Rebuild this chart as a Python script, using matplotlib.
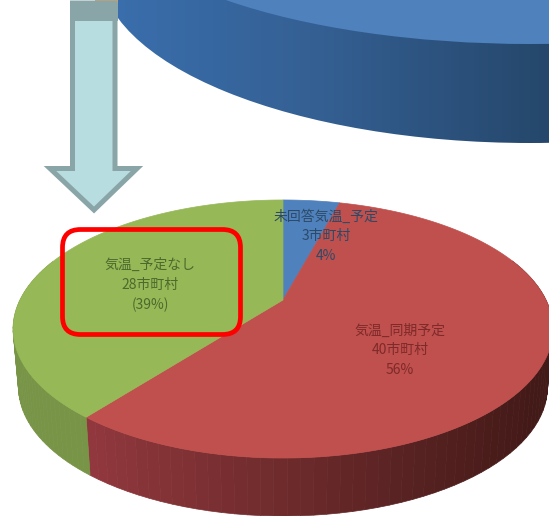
import matplotlib.pyplot as plt
import matplotlib.patches as patches
import matplotlib.colors as mcolors
import numpy as np

plt.rcParams['font.family'] = ['Noto Sans CJK JP', 'DejaVu Sans']

# municipalities per answer, clockwise from the top of the pie
counts = [3, 40, 28]
pct_labels = ['4%', '56%', '(39%)']
slice_names = ['未回答気温_予定', '気温_同期予定', '気温_予定なし']
count_labels = ['3市町村', '40市町村', '28市町村']
top_colors = ['#4f81bd', '#c0504d', '#96b857']
side_left = [(0.20, 0.35, 0.55), (0.57, 0.22, 0.24), (0.47, 0.58, 0.28)]
side_right = [(0.15, 0.27, 0.45), (0.26, 0.10, 0.09), (0.53, 0.64, 0.31)]

W, H = 549, 516
fig = plt.figure(figsize=(W / 100, H / 100), dpi=100)
ax = fig.add_axes([0, 0, 1, 1])

# pie is drawn in perspective, so the centre sits above the middle of the ellipse
CX, CY = 283, 300
RX, RY, K = 263, 122.5, 0.2248
THICK = 58
SHRINK = 0.98  # lower rim is a little narrower than the top face


def project(theta):
    u, v = np.sin(theta), np.cos(theta)
    d = 1 + K * v
    return CX + RX * u / d, CY - RY * v / d


def lower(x, y):
    return CX + (x - CX) * SHRINK, y + THICK


# upper big pie, cut by the picture edge
big_side = patches.Ellipse((530, -32), 860, 350, fc='none', ec='none', zorder=1)
ax.add_patch(big_side)
shade = mcolors.LinearSegmentedColormap.from_list('side', ['#3a6fae', '#345f92', '#25476b'])
img = ax.imshow(np.linspace(0, 1, 256).reshape(1, -1), extent=(100, W, H, 0), cmap=shade,
                aspect='auto', zorder=1)
img.set_clip_path(big_side)
ax.add_patch(patches.Ellipse((530, -106), 860, 300, fc='#4f81bd', ec='none', zorder=2))
ax.add_patch(patches.Rectangle((95, 0), 23, 3, fc='#d9a05b', ec='none', zorder=1))

ax.set_xlim(0, W)
ax.set_ylim(H, 0)
ax.axis('off')

# wall of the pie, one thin strip per step so the shade can change
fractions = np.array(counts) / sum(counts)
edges = np.concatenate([[0], np.cumsum(fractions)]) * 2 * np.pi
for i in range(len(counts)):
    steps = np.linspace(edges[i], edges[i + 1], 90)
    for a, b in zip(steps[:-1], steps[1:]):
        if np.cos((a + b) / 2) > 0.35:
            continue
        xa, ya = project(a)
        xb, yb = project(b)
        t = np.clip((xa - 90) / 450, 0, 1)
        col = (1 - t) * np.array(side_left[i]) + t * np.array(side_right[i])
        ax.add_patch(patches.Polygon([(xa, ya), (xb, yb), lower(xb, yb), lower(xa, ya)],
                                     fc=col, ec=col, lw=0.5, zorder=3))

# top face
for i in range(len(counts)):
    thetas = np.linspace(edges[i], edges[i + 1], 200)
    xs, ys = project(thetas)
    pts = [(CX, CY)] + list(zip(xs, ys))
    ax.add_patch(patches.Polygon(pts, fc=top_colors[i], ec=top_colors[i], lw=0.5, zorder=4))

# slice labels
label_pos = [(326, 236), (400, 350), (150, 285)]
text_colors = ['#2c4a68', '#7e2a2a', '#4c6a2c']
for i in range(len(counts)):
    ax.text(label_pos[i][0], label_pos[i][1],
            slice_names[i] + '\n' + count_labels[i] + '\n' + pct_labels[i],
            ha='center', va='center', fontsize=10, linespacing=1.5,
            color=text_colors[i], zorder=5)

# arrow pointing down at the lower pie, outline centred on these points
arrow = [(72.5, 3), (115, 3), (115, 168.5), (137, 168.5), (94, 210), (50, 168.5), (72.5, 168.5)]
ax.add_patch(patches.Polygon(arrow, closed=True, fc='#b7dde1', ec='#8aa5a8', lw=3.6,
                             joinstyle='miter', zorder=6))
ax.add_patch(patches.Rectangle((70, 3), 48, 18, fc='#8aa5a8', ec='none', zorder=7))

# red frame
ax.add_patch(patches.FancyBboxPatch((62.5 + 16, 229.5 + 16), 178 - 32, 105 - 32,
                                    boxstyle='round,pad=16,rounding_size=18',
                                    fc='none', ec='#ff0000', lw=3.4, zorder=8))

fig.savefig('out.png', dpi=100)
